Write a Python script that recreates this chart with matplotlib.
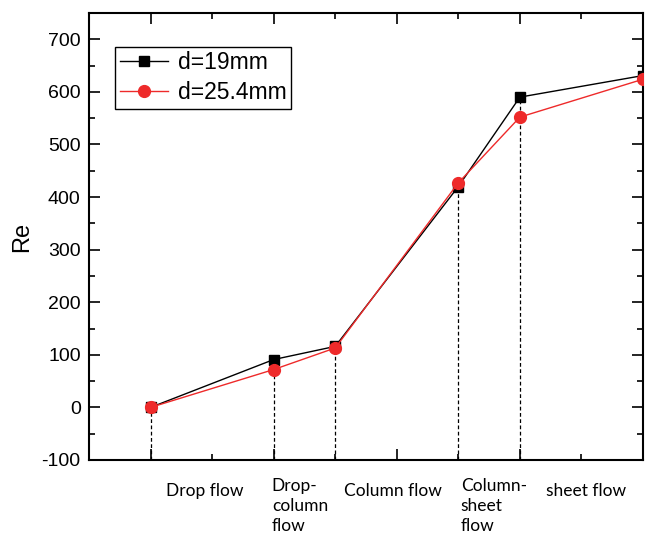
import numpy as np
import matplotlib.pyplot as plt
from matplotlib.ticker import MultipleLocator, FixedLocator, NullFormatter

plt.rcParams['axes.unicode_minus'] = False

# Data
x = [1, 3, 4, 6, 7, 9]
re_19 = [0, 91, 116, 420, 590, 631]
re_254 = [0, 72, 113, 427, 552, 624]

# transition positions (dashed lines) and the regime labels
x_trans = [1, 3, 4, 6, 7]
labels = ['Drop flow', 'Drop-\ncolumn\nflow', 'Column flow', 'Column-\nsheet\nflow', 'sheet flow']
label_x = [1.88, 2.97, 4.93, 6.04, 8.08]
label_ha = ['center', 'left', 'center', 'left', 'center']

fig = plt.figure(figsize=(6.47, 5.34), dpi=100)
ax = fig.add_axes([0.1376, 0.1386, 0.8562, 0.8371])

ax.plot(x, re_19, color='black', lw=1, marker='s', ms=7, label='d=19mm', zorder=3)
ax.plot(x, re_254, color='#ee2a2a', lw=1, marker='o', ms=8.5, label='d=25.4mm', zorder=3)

# dashed drop lines from upper point down to the axis floor
for xi in x_trans:
    i = x.index(xi)
    top = max(re_19[i], re_254[i])
    ax.plot([xi, xi], [-100, top], color='black', lw=0.9, ls=(0, (3, 2)), zorder=2)

ax.set_xlim(0, 9)
ax.set_ylim(-100, 750)
ax.xaxis.set_major_locator(FixedLocator([1, 3, 5, 7]))
ax.xaxis.set_minor_locator(FixedLocator([2, 4, 6, 8]))
ax.xaxis.set_major_formatter(NullFormatter())
ax.yaxis.set_major_locator(FixedLocator(np.arange(-100, 701, 100)))
ax.yaxis.set_minor_locator(MultipleLocator(50))

ax.tick_params(which='both', direction='in', top=True, right=True, width=1.2)
ax.tick_params(which='major', length=8, labelsize=14, pad=6)
ax.tick_params(which='minor', length=4)
for lab in ax.get_yticklabels():
    lab.set_family('Liberation Sans')
for s in ax.spines.values():
    s.set_linewidth(1.5)

ax.set_ylabel('Re', fontsize=17, family='Liberation Sans', labelpad=6)

leg = ax.legend(loc='upper left', bbox_to_anchor=(0.047, 0.925), fancybox=False,
                edgecolor='black', framealpha=1, borderpad=0.2, handlelength=2.1,
                prop={'family': 'Liberation Sans', 'size': 16.5}, labelspacing=0.3,
                handletextpad=0.45, borderaxespad=0)
leg.get_frame().set_linewidth(1)

for lx, txt, ha in zip(label_x, labels, label_ha):
    ty = -134 if '\n' in txt else -143
    ax.text(lx, ty, txt, ha=ha, va='top', fontsize=12.5, family='Lato',
            linespacing=1.3, clip_on=False)

fig.savefig('out.png', dpi=100)
